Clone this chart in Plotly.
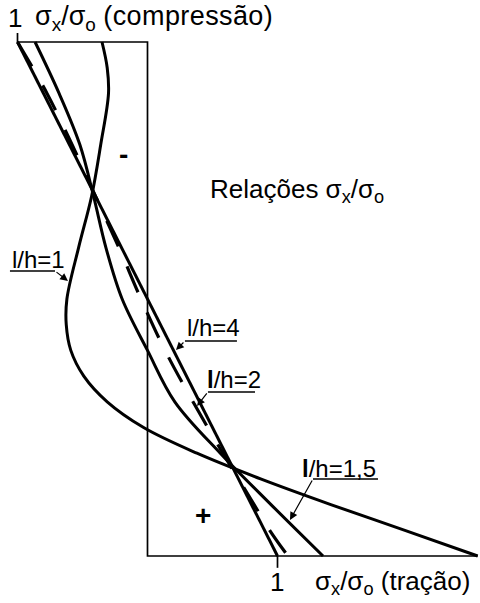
import plotly.graph_objects as go

# Relative height of the section: 1 = top fibre, 0 = bottom fibre
h_l1 = [1.00, 0.95, 0.90, 0.80, 0.70, 0.60, 0.50, 0.45, 0.40, 0.35, 0.30, 0.25, 0.20, 0.15, 0.10, 0.05, 0.00]
s_l1 = [-0.35, -0.31, -0.30, -0.36, -0.43, -0.53, -0.62, -0.625, -0.59, -0.49, -0.31, -0.03, 0.38, 0.87, 1.41, 1.98, 2.54]

h_l15 = [1.0, 0.9, 0.8, 0.7, 0.6, 0.5, 0.4, 0.3, 0.2, 0.1, 0.0]
s_l15 = [-0.865, -0.68, -0.52, -0.415, -0.32, -0.195, 0.0, 0.21, 0.56, 0.95, 1.35]

h_l2 = [1.0, 0.9, 0.8, 0.7, 0.6, 0.5, 0.4, 0.3, 0.2, 0.1, 0.05, 0.0]
s_l2 = [-1.0, -0.773, -0.58, -0.40, -0.22, -0.05, 0.135, 0.35, 0.58, 0.82, 0.94, 1.08]

h_l4 = [1.0, 0.0]
s_l4 = [-1.0, 1.0]

FONT = "Liberation Sans, Arial, sans-serif"
INK = "black"
BIG = 26
LBL = 24

fig = go.Figure()

# section outline: compression block on top, tension baseline at the bottom
fig.add_trace(go.Scatter(x=[-1.0, 0.0, 0.0, s_l1[-1]], y=[1.0, 1.0, 0.0, 0.0],
                         mode="lines", line=dict(color=INK, width=1.7),
                         hoverinfo="skip", showlegend=False))
# unit ticks
fig.add_trace(go.Scatter(x=[-1.0, -1.0], y=[1.0, 1.0175], mode="lines",
                         line=dict(color=INK, width=1.7), showlegend=False))
fig.add_trace(go.Scatter(x=[1.0, 1.0], y=[0.0, -0.023], mode="lines",
                         line=dict(color=INK, width=1.7), showlegend=False))

# stress distributions
fig.add_trace(go.Scatter(x=s_l4, y=h_l4, mode="lines", name="l/h=4",
                         line=dict(color=INK, width=3), showlegend=False))
fig.add_trace(go.Scatter(x=s_l2, y=h_l2, mode="lines", name="l/h=2",
                         line=dict(color=INK, width=3.2, shape="spline", dash="28px,22px"),
                         showlegend=False))
fig.add_trace(go.Scatter(x=s_l15, y=h_l15, mode="lines", name="l/h=1,5",
                         line=dict(color=INK, width=3, shape="spline"), showlegend=False))
fig.add_trace(go.Scatter(x=s_l1, y=h_l1, mode="lines", name="l/h=1",
                         line=dict(color=INK, width=3, shape="spline"), showlegend=False))

def text(x, y, s, size, anchor="left", bold=False):
    fig.add_annotation(x=x, y=y, xref="x", yref="y", text=f"<b>{s}</b>" if bold else s,
                       showarrow=False, xanchor=anchor, yanchor="middle",
                       font=dict(family=FONT, size=size, color=INK))

sig = "σ<sub>x</sub>/σ<sub>o</sub>"
text(-1.019, 1.047, "1", BIG, "center")
text(-0.881, 1.047, f'{sig} <span style="letter-spacing:0.4px">(compressão)</span>', 27)
text(0.465, 0.712, f"Relações {sig}", BIG)
text(-0.181, 0.781, "-", 28, "center", bold=True)
text(0.427, 0.078, "+", 28, "center", bold=True)
text(0.996, -0.051, "1", BIG, "center")
text(1.273, -0.051, f"{sig} (tração)", BIG)

# curve labels: text, underline and leader arrow
labels = [
    # text, text x, text y, underline x0, x1, underline y, arrow tip x, tip y, tail x
    ("l/h=1", -1.058, 0.576, -1.058, -0.7115, 0.5545, -0.6115, 0.535, -0.7115),
    ("l/h=4", 0.288, 0.4436, 0.288, 0.688, 0.4183, 0.219, 0.4008, 0.288),
    ("<b>l</b>/h=2", 0.442, 0.3425, 0.465, 0.827, 0.3191, 0.381, 0.2918, 0.465),
    ("<b>l</b>/h=1,5", 1.173, 0.1693, 1.273, 1.773, 0.1498, 1.096, 0.070, 1.273),
]
for s, tx, ty, ux0, ux1, uy, ax_tip, ay_tip, tail_x in labels:
    text(tx, ty, s, LBL)
    fig.add_shape(type="line", x0=ux0, x1=ux1, y0=uy, y1=uy, xref="x", yref="y",
                  line=dict(color=INK, width=1.3))
    fig.add_annotation(x=ax_tip, y=ay_tip, ax=tail_x, ay=uy, xref="x", yref="y",
                       axref="x", ayref="y", text="", showarrow=True,
                       arrowhead=2, arrowsize=1.3, arrowwidth=1.2, arrowcolor=INK, standoff=0)

fig.update_xaxes(visible=False, range=[-1.1346, 2.5577])
fig.update_yaxes(visible=False, range=[-0.09144, 1.08171])
fig.update_layout(width=480, height=603, margin=dict(l=0, r=0, t=0, b=0),
                  paper_bgcolor="white", plot_bgcolor="white", showlegend=False)

fig.write_html("out.html")
